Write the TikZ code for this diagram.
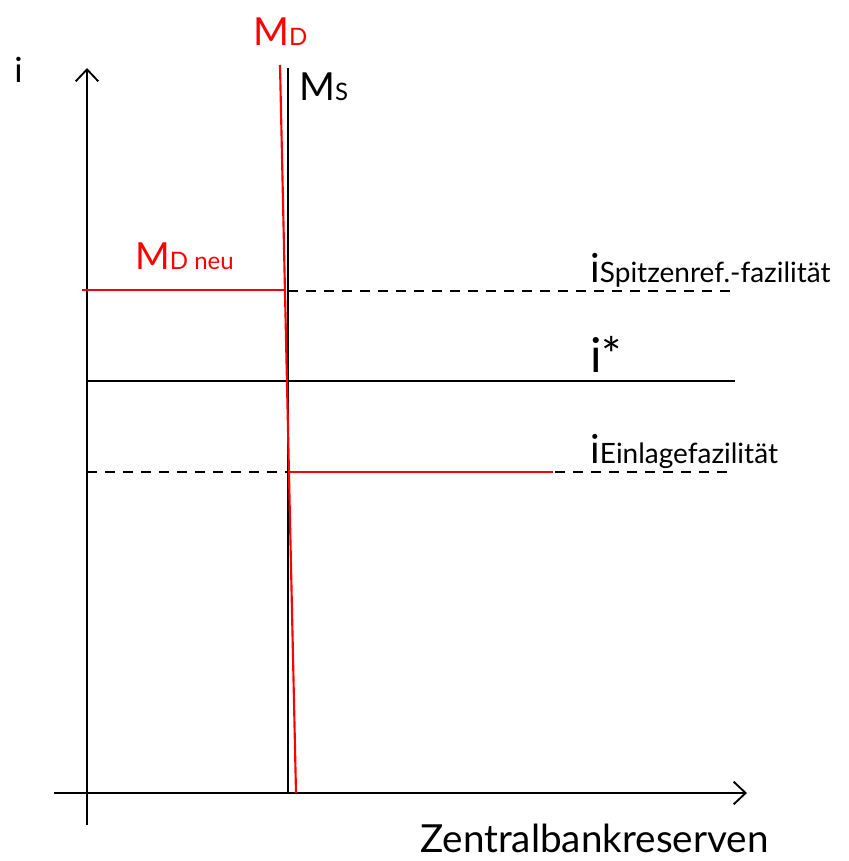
\documentclass[tikz,border=0pt]{standalone}
\usepackage{fontspec}
\setmainfont{Lato}
\usetikzlibrary{arrows.meta}
\definecolor{pred}{RGB}{255,0,0}
\begin{document}
\begin{tikzpicture}[x=0.75pt,y=-0.75pt,
  axis/.style={line width=1.6pt,-{Straight Barb[length=9pt,width=17pt,line width=1.4pt]}},
  blk/.style={line width=1.6pt,black},
  red/.style={line width=1.6pt,pred},
  dsh/.style={line width=1.6pt,black,dash pattern=on 7.5pt off 6pt},
  lbl/.style={inner sep=0pt,anchor=base west}]
\useasboundingbox (0,0) rectangle (849,861);
% axes
\coordinate (ybot) at (87,825);
\coordinate (ytop) at (87,68);
\coordinate (xl) at (54,793);
\coordinate (xr) at (747,793);
\draw[axis] (ybot) -- (ytop);
\draw[axis] (xl) -- (xr);
% MS
\coordinate (mstop) at (288,68);
\coordinate (msbot) at (288,793);
\draw[blk] (mstop) -- (msbot);
% horizontal lines
\coordinate (sl) at (288,291);
\coordinate (sr) at (735,291);
\draw[dsh] (sl) -- (sr);
\coordinate (al) at (87,381);
\coordinate (ar) at (735,381);
\draw[blk] (al) -- (ar);
\coordinate (el) at (87,472);
\coordinate (er) at (735,472);
\draw[dsh] (el) -- (er);
% MD (red)
\coordinate (mdtop) at (280,65);
\coordinate (mdbot) at (296,793);
\draw[red] (mdtop) -- (mdbot);
\coordinate (nl) at (82,290);
\coordinate (nr) at (285.0,290);
\draw[red] (nl) -- (nr);
\coordinate (rl) at (289,472);
\coordinate (rr) at (553,472);
\draw[red] (rl) -- (rr);
% labels
\node[lbl] (li) at (14,82) {\fontsize{26pt}{26pt}\selectfont i};
\node[lbl,text=pred] (lmd) at (253,45) {\fontsize{29pt}{29pt}\selectfont M\fontsize{18pt}{18pt}\selectfont D};
\node[lbl] (lms) at (299,100) {\fontsize{29pt}{29pt}\selectfont M\fontsize{18pt}{18pt}\selectfont S};
\node[lbl,text=pred] (lmdn) at (135,269) {\fontsize{28pt}{28pt}\selectfont M\fontsize{18pt}{18pt}\selectfont D neu};
\node[lbl] (lsp) at (590,282) {\fontsize{30pt}{30pt}\selectfont i\fontsize{21pt}{21pt}\selectfont Spitzenref.-fazilität};
\node[lbl] (lst) at (590,372) {\fontsize{36pt}{36pt}\selectfont i*};
\node[lbl] (lei) at (590,463) {\fontsize{30pt}{30pt}\selectfont i\fontsize{21pt}{21pt}\selectfont Einlagefazilität};
\node[lbl] (lx) at (420,852) {\fontsize{29pt}{29pt}\selectfont Zentralbankreserven};
\end{tikzpicture}
\end{document}
